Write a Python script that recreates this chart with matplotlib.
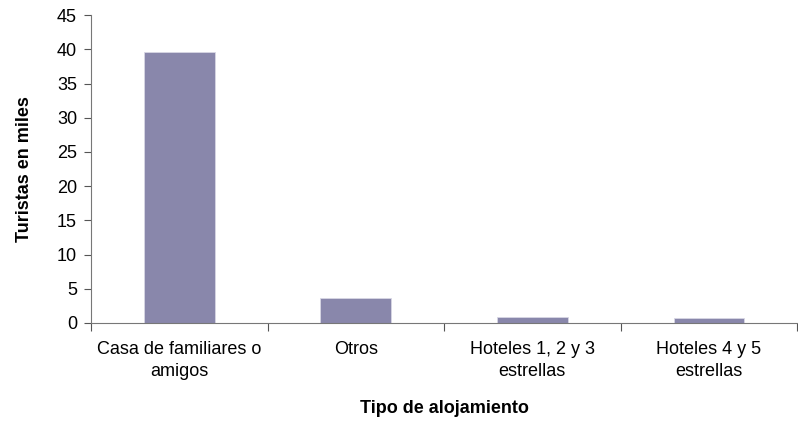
import matplotlib
matplotlib.use('Agg')
import matplotlib.pyplot as plt
import numpy as np

# Daten
categories = ["Casa de familiares o\namigos", "Otros", "Hoteles 1, 2 y 3\nestrellas", "Hoteles 4 y 5\nestrellas"]
values = [39.6, 3.65, 0.9, 0.7]
yticks = np.arange(0, 50, 5)

plt.rcParams['font.family'] = ['Liberation Sans', 'DejaVu Sans']

fig = plt.figure(figsize=(7.98, 4.21), dpi=100)
ax = fig.add_axes([0.114, 0.233, 0.885, 0.731])

x = np.arange(len(categories))
ax.bar(x, values, width=0.4, color='#8987ab', edgecolor='#d8d7e4', linewidth=0.6)

ax.set_xlim(-0.5, len(categories) - 0.5)
ax.set_ylim(0, 45)
ax.set_yticks(yticks)
ax.tick_params(axis='y', labelsize=13, length=5, color='#555555', direction='out', pad=5)

# Striche an den Kategoriegrenzen, Beschriftung in der Mitte
ax.set_xticks(np.arange(-0.5, len(categories), 1.0))
ax.set_xticklabels([])
ax.set_xticks(x, minor=True)
ax.set_xticklabels(categories, minor=True, fontsize=13, linespacing=1.35)
ax.tick_params(axis='x', which='major', length=6, color='#555555', direction='out')
ax.tick_params(axis='x', which='minor', length=0, pad=13)

for s in ['top', 'right']:
    ax.spines[s].set_visible(False)
ax.spines['left'].set_color('#777777')
ax.spines['bottom'].set_color('#777777')

ax.set_ylabel("Turistas en miles", fontsize=13, fontweight='bold', labelpad=17)
ax.set_xlabel("Tipo de alojamiento", fontsize=13, fontweight='bold', labelpad=15)

fig.savefig("out.png", dpi=100)
